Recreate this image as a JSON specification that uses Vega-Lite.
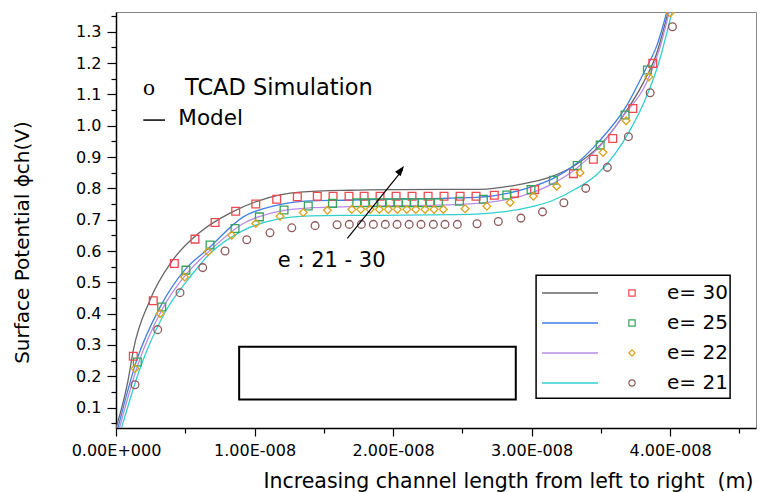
{
  "$schema": "https://vega.github.io/schema/vega-lite/v6.json",
  "width": 640,
  "height": 416,
  "autosize": "none",
  "padding": {"left": 116, "top": 12, "right": 13, "bottom": 64},
  "background": "white",
  "config": {"font": "DejaVu Sans", "view": {"stroke": "#888888", "strokeWidth": 1}},
  "datasets": {
    "one": [{}],
    "model": [
      {"e": "30", "x": 0, "y": 0.035}, {"e": "30", "x": 0.087e-8, "y": 0.187}, {"e": "30", "x": 0.125e-8, "y": 0.283}, {"e": "30", "x": 0.245e-8, "y": 0.443}, {"e": "30", "x": 0.40e-8, "y": 0.565}, {"e": "30", "x": 0.606e-8, "y": 0.66}, {"e": "30", "x": 0.823e-8, "y": 0.721}, {"e": "30", "x": 1.04e-8, "y": 0.762}, {"e": "30", "x": 1.329e-8, "y": 0.788}, {"e": "30", "x": 1.69e-8, "y": 0.794}, {"e": "30", "x": 2.051e-8, "y": 0.796}, {"e": "30", "x": 2.628e-8, "y": 0.797}, {"e": "30", "x": 2.917e-8, "y": 0.813}, {"e": "30", "x": 3.134e-8, "y": 0.836}, {"e": "30", "x": 3.314e-8, "y": 0.874}, {"e": "30", "x": 3.495e-8, "y": 0.938}, {"e": "30", "x": 3.639e-8, "y": 1.018}, {"e": "30", "x": 3.805e-8, "y": 1.136}, {"e": "30", "x": 3.899e-8, "y": 1.226}, {"e": "30", "x": 3.986e-8, "y": 1.363},
      {"e": "25", "x": 0.014e-8, "y": 0.035}, {"e": "25", "x": 0.149e-8, "y": 0.251}, {"e": "25", "x": 0.318e-8, "y": 0.421}, {"e": "25", "x": 0.505e-8, "y": 0.544}, {"e": "25", "x": 0.655e-8, "y": 0.603}, {"e": "25", "x": 0.919e-8, "y": 0.709}, {"e": "25", "x": 1.16e-8, "y": 0.746}, {"e": "25", "x": 1.401e-8, "y": 0.76}, {"e": "25", "x": 1.641e-8, "y": 0.762}, {"e": "25", "x": 1.906e-8, "y": 0.765}, {"e": "25", "x": 2.267e-8, "y": 0.767}, {"e": "25", "x": 2.604e-8, "y": 0.771}, {"e": "25", "x": 2.965e-8, "y": 0.8}, {"e": "25", "x": 3.157e-8, "y": 0.832}, {"e": "25", "x": 3.326e-8, "y": 0.88}, {"e": "25", "x": 3.495e-8, "y": 0.954}, {"e": "25", "x": 3.675e-8, "y": 1.056}, {"e": "25", "x": 3.82e-8, "y": 1.178}, {"e": "25", "x": 3.906e-8, "y": 1.258}, {"e": "25", "x": 3.976e-8, "y": 1.363},
      {"e": "22", "x": 0.025e-8, "y": 0.035}, {"e": "22", "x": 0.161e-8, "y": 0.241}, {"e": "22", "x": 0.33e-8, "y": 0.411}, {"e": "22", "x": 0.515e-8, "y": 0.53}, {"e": "22", "x": 0.666e-8, "y": 0.597}, {"e": "22", "x": 0.919e-8, "y": 0.688}, {"e": "22", "x": 1.16e-8, "y": 0.725}, {"e": "22", "x": 1.401e-8, "y": 0.738}, {"e": "22", "x": 1.641e-8, "y": 0.741}, {"e": "22", "x": 1.906e-8, "y": 0.744}, {"e": "22", "x": 2.267e-8, "y": 0.746}, {"e": "22", "x": 2.604e-8, "y": 0.752}, {"e": "22", "x": 2.989e-8, "y": 0.784}, {"e": "22", "x": 3.157e-8, "y": 0.816}, {"e": "22", "x": 3.326e-8, "y": 0.864}, {"e": "22", "x": 3.495e-8, "y": 0.935}, {"e": "22", "x": 3.66e-8, "y": 1.03}, {"e": "22", "x": 3.827e-8, "y": 1.135}, {"e": "22", "x": 3.92e-8, "y": 1.24}, {"e": "22", "x": 3.993e-8, "y": 1.363},
      {"e": "21", "x": 0.04e-8, "y": 0.035}, {"e": "21", "x": 0.173e-8, "y": 0.225}, {"e": "21", "x": 0.342e-8, "y": 0.395}, {"e": "21", "x": 0.534e-8, "y": 0.517}, {"e": "21", "x": 0.679e-8, "y": 0.592}, {"e": "21", "x": 0.919e-8, "y": 0.666}, {"e": "21", "x": 1.16e-8, "y": 0.701}, {"e": "21", "x": 1.401e-8, "y": 0.712}, {"e": "21", "x": 1.641e-8, "y": 0.714}, {"e": "21", "x": 1.906e-8, "y": 0.714}, {"e": "21", "x": 2.46e-8, "y": 0.716}, {"e": "21", "x": 2.773e-8, "y": 0.724}, {"e": "21", "x": 2.989e-8, "y": 0.74}, {"e": "21", "x": 3.155e-8, "y": 0.762}, {"e": "21", "x": 3.314e-8, "y": 0.797}, {"e": "21", "x": 3.473e-8, "y": 0.845}, {"e": "21", "x": 3.596e-8, "y": 0.906}, {"e": "21", "x": 3.711e-8, "y": 0.986}, {"e": "21", "x": 3.819e-8, "y": 1.082}, {"e": "21", "x": 3.913e-8, "y": 1.194}, {"e": "21", "x": 4.014e-8, "y": 1.363}
    ],
    "tcad": [
      {"e": "30", "x": 0.125e-8, "y": 0.264}, {"e": "30", "x": 0.269e-8, "y": 0.441}, {"e": "30", "x": 0.421e-8, "y": 0.56}, {"e": "30", "x": 0.57e-8, "y": 0.638}, {"e": "30", "x": 0.715e-8, "y": 0.691}, {"e": "30", "x": 0.864e-8, "y": 0.727}, {"e": "30", "x": 1.009e-8, "y": 0.75}, {"e": "30", "x": 1.16e-8, "y": 0.765}, {"e": "30", "x": 1.309e-8, "y": 0.773}, {"e": "30", "x": 1.453e-8, "y": 0.775}, {"e": "30", "x": 1.567e-8, "y": 0.775}, {"e": "30", "x": 1.682e-8, "y": 0.775}, {"e": "30", "x": 1.791e-8, "y": 0.775}, {"e": "30", "x": 1.906e-8, "y": 0.775}, {"e": "30", "x": 2.022e-8, "y": 0.775}, {"e": "30", "x": 2.137e-8, "y": 0.775}, {"e": "30", "x": 2.253e-8, "y": 0.775}, {"e": "30", "x": 2.368e-8, "y": 0.775}, {"e": "30", "x": 2.484e-8, "y": 0.775}, {"e": "30", "x": 2.599e-8, "y": 0.775}, {"e": "30", "x": 2.731e-8, "y": 0.778}, {"e": "30", "x": 2.876e-8, "y": 0.784}, {"e": "30", "x": 3.022e-8, "y": 0.796}, {"e": "30", "x": 3.302e-8, "y": 0.847}, {"e": "30", "x": 3.446e-8, "y": 0.893}, {"e": "30", "x": 3.586e-8, "y": 0.959}, {"e": "30", "x": 3.731e-8, "y": 1.055}, {"e": "30", "x": 3.875e-8, "y": 1.199},
      {"e": "25", "x": 0.154e-8, "y": 0.246}, {"e": "25", "x": 0.33e-8, "y": 0.421}, {"e": "25", "x": 0.505e-8, "y": 0.539}, {"e": "25", "x": 0.679e-8, "y": 0.619}, {"e": "25", "x": 0.859e-8, "y": 0.672}, {"e": "25", "x": 1.035e-8, "y": 0.709}, {"e": "25", "x": 1.213e-8, "y": 0.731}, {"e": "25", "x": 1.388e-8, "y": 0.744}, {"e": "25", "x": 1.563e-8, "y": 0.752}, {"e": "25", "x": 1.738e-8, "y": 0.754}, {"e": "25", "x": 1.798e-8, "y": 0.754}, {"e": "25", "x": 1.858e-8, "y": 0.754}, {"e": "25", "x": 1.918e-8, "y": 0.754}, {"e": "25", "x": 1.978e-8, "y": 0.754}, {"e": "25", "x": 2.038e-8, "y": 0.754}, {"e": "25", "x": 2.096e-8, "y": 0.754}, {"e": "25", "x": 2.154e-8, "y": 0.754}, {"e": "25", "x": 2.209e-8, "y": 0.754}, {"e": "25", "x": 2.267e-8, "y": 0.754}, {"e": "25", "x": 2.327e-8, "y": 0.754}, {"e": "25", "x": 2.479e-8, "y": 0.759}, {"e": "25", "x": 2.652e-8, "y": 0.765}, {"e": "25", "x": 2.821e-8, "y": 0.779}, {"e": "25", "x": 2.996e-8, "y": 0.796}, {"e": "25", "x": 3.157e-8, "y": 0.826}, {"e": "25", "x": 3.329e-8, "y": 0.873}, {"e": "25", "x": 3.495e-8, "y": 0.938}, {"e": "25", "x": 3.675e-8, "y": 1.034}, {"e": "25", "x": 3.836e-8, "y": 1.178},
      {"e": "22", "x": 0.137e-8, "y": 0.225}, {"e": "22", "x": 0.318e-8, "y": 0.4}, {"e": "22", "x": 0.495e-8, "y": 0.517}, {"e": "22", "x": 0.664e-8, "y": 0.598}, {"e": "22", "x": 0.835e-8, "y": 0.65}, {"e": "22", "x": 1.009e-8, "y": 0.688}, {"e": "22", "x": 1.184e-8, "y": 0.711}, {"e": "22", "x": 1.352e-8, "y": 0.723}, {"e": "22", "x": 1.526e-8, "y": 0.73}, {"e": "22", "x": 1.702e-8, "y": 0.733}, {"e": "22", "x": 1.767e-8, "y": 0.733}, {"e": "22", "x": 1.834e-8, "y": 0.733}, {"e": "22", "x": 1.901e-8, "y": 0.733}, {"e": "22", "x": 1.966e-8, "y": 0.733}, {"e": "22", "x": 2.031e-8, "y": 0.733}, {"e": "22", "x": 2.099e-8, "y": 0.733}, {"e": "22", "x": 2.164e-8, "y": 0.733}, {"e": "22", "x": 2.231e-8, "y": 0.733}, {"e": "22", "x": 2.296e-8, "y": 0.733}, {"e": "22", "x": 2.363e-8, "y": 0.733}, {"e": "22", "x": 2.52e-8, "y": 0.735}, {"e": "22", "x": 2.677e-8, "y": 0.743}, {"e": "22", "x": 2.845e-8, "y": 0.755}, {"e": "22", "x": 3.013e-8, "y": 0.775}, {"e": "22", "x": 3.182e-8, "y": 0.807}, {"e": "22", "x": 3.35e-8, "y": 0.85}, {"e": "22", "x": 3.516e-8, "y": 0.915}, {"e": "22", "x": 3.682e-8, "y": 1.016}, {"e": "22", "x": 3.846e-8, "y": 1.156}, {"e": "22", "x": 4.0e-8, "y": 1.36},
      {"e": "21", "x": 0.137e-8, "y": 0.173}, {"e": "21", "x": 0.301e-8, "y": 0.349}, {"e": "21", "x": 0.462e-8, "y": 0.467}, {"e": "21", "x": 0.626e-8, "y": 0.547}, {"e": "21", "x": 0.787e-8, "y": 0.6}, {"e": "21", "x": 0.944e-8, "y": 0.636}, {"e": "21", "x": 1.112e-8, "y": 0.658}, {"e": "21", "x": 1.269e-8, "y": 0.674}, {"e": "21", "x": 1.437e-8, "y": 0.681}, {"e": "21", "x": 1.596e-8, "y": 0.684}, {"e": "21", "x": 1.684e-8, "y": 0.685}, {"e": "21", "x": 1.771e-8, "y": 0.685}, {"e": "21", "x": 1.858e-8, "y": 0.685}, {"e": "21", "x": 1.944e-8, "y": 0.685}, {"e": "21", "x": 2.029e-8, "y": 0.685}, {"e": "21", "x": 2.116e-8, "y": 0.685}, {"e": "21", "x": 2.202e-8, "y": 0.685}, {"e": "21", "x": 2.291e-8, "y": 0.685}, {"e": "21", "x": 2.375e-8, "y": 0.685}, {"e": "21", "x": 2.464e-8, "y": 0.685}, {"e": "21", "x": 2.606e-8, "y": 0.687}, {"e": "21", "x": 2.76e-8, "y": 0.694}, {"e": "21", "x": 2.923e-8, "y": 0.705}, {"e": "21", "x": 3.079e-8, "y": 0.725}, {"e": "21", "x": 3.233e-8, "y": 0.754}, {"e": "21", "x": 3.391e-8, "y": 0.8}, {"e": "21", "x": 3.547e-8, "y": 0.867}, {"e": "21", "x": 3.699e-8, "y": 0.965}, {"e": "21", "x": 3.856e-8, "y": 1.105}, {"e": "21", "x": 4.017e-8, "y": 1.316}
    ]
  },
  "resolve": {"axis": {"x": "independent", "y": "independent"}},
  "layer": [
    {
      "data": {"name": "one"},
      "mark": {"type": "rect", "fill": "white", "stroke": "black", "strokeWidth": 1.5},
      "encoding": {
        "x": {"datum": 3.0325e-8, "type": "quantitative", "axis": null},
        "x2": {"datum": 4.433e-8},
        "y": {"datum": 0.523, "type": "quantitative", "axis": null},
        "y2": {"datum": 0.13}
      }
    },
    {
      "data": {"name": "one"},
      "mark": {"type": "rect", "fill": "white", "stroke": "black", "strokeWidth": 2},
      "encoding": {
        "x": {"datum": 0.889e-8, "type": "quantitative", "axis": null},
        "x2": {"datum": 2.886e-8},
        "y": {"datum": 0.294, "type": "quantitative", "axis": null},
        "y2": {"datum": 0.126}
      }
    },
    {
      "data": {"name": "model"},
      "mark": {"type": "line", "interpolate": "monotone", "strokeWidth": 1.3, "clip": true},
      "encoding": {
        "x": {"field": "x", "type": "quantitative",
          "scale": {"domain": [0, 4.62e-8], "nice": false, "zero": false},
          "axis": {"orient": "bottom", "values": [0, 1e-8, 2e-8, 3e-8, 4e-8],
            "labelExpr": "datum.value == 0 ? '0.00E+000' : format(datum.value * 1e8, '.2f') + 'E-008'",
            "labelFlush": false, "labelOverlap": false, "labelFontSize": 16, "labelColor": "black", "labelPadding": 6,
            "tickSize": 8, "tickColor": "black", "tickWidth": 1.2, "domainColor": "black", "domainWidth": 1.5, "grid": false,
            "title": "Increasing channel length from left to right \u00a0(m)", "titleFontSize": 20.5, "titleFontWeight": "normal",
            "titleColor": "black", "titleX": 392, "titleY": 53, "titleAlign": "center", "titleBaseline": "middle", "titleAnchor": null}},
        "y": {"field": "y", "type": "quantitative",
          "scale": {"domain": [0.035, 1.363], "nice": false, "zero": false},
          "axis": {"orient": "left", "values": [0.1, 0.2, 0.3, 0.4, 0.5, 0.6, 0.7, 0.8, 0.9, 1.0, 1.1, 1.2, 1.3],
            "format": ".1f", "labelFontSize": 16, "labelColor": "black", "labelPadding": 6,
            "tickSize": 9, "tickColor": "black", "tickWidth": 1.2, "domainColor": "black", "domainWidth": 1.5, "grid": false,
            "title": "Surface Potential ϕch(V)", "titleFontSize": 20, "titleFontWeight": "normal", "titleColor": "black",
            "titleAngle": 270, "titleX": -94, "titleY": 230, "titleAlign": "center", "titleBaseline": "middle", "titleAnchor": null}},
        "stroke": {"field": "e", "type": "nominal", "sort": "descending",
          "scale": {"range": ["#666666", "#3f7fe6", "#b98be8", "#33cfcf"]},
          "legend": {"orient": "none", "legendX": 444, "legendY": 271, "title": null, "direction": "vertical",
            "symbolType": "M-3.5,0H3.5", "symbolSize": 256, "symbolStrokeWidth": 1.6,
            "labelExpr": "'e= ' + datum.label", "labelFontSize": 20, "labelOpacity": 0, "rowPadding": 10, "padding": 0}}
      }
    },
    {
      "data": {"name": "tcad"},
      "mark": {"type": "point", "filled": false, "strokeWidth": 1.3, "size": 60, "opacity": 1, "clip": true},
      "encoding": {
        "x": {"field": "x", "type": "quantitative",
          "axis": {"orient": "bottom", "values": [0.5e-8, 1.5e-8, 2.5e-8, 3.5e-8, 4.5e-8], "labels": false, "domain": false,
            "tickSize": 5, "tickColor": "black", "tickWidth": 1.2, "grid": false, "title": null}},
        "y": {"field": "y", "type": "quantitative",
          "axis": {"orient": "left", "values": [0.05, 0.15, 0.25, 0.35, 0.45, 0.55, 0.65, 0.75, 0.85, 0.95, 1.05, 1.15, 1.25, 1.35],
            "labels": false, "domain": false, "tickSize": 5, "tickColor": "black", "tickWidth": 1.2, "grid": false, "title": null}},
        "color": {"field": "e", "type": "nominal", "sort": "descending",
          "scale": {"range": ["#f04850", "#38a35a", "#dca21c", "#8c5a5a"]},
          "legend": {"orient": "none", "legendX": 506, "legendY": 271, "title": null, "direction": "vertical",
            "symbolSize": 40, "symbolStrokeWidth": 1.2, "symbolOpacity": 1, "labelExpr": "'e= ' + datum.label", "labelFontSize": 20,
            "labelColor": "black", "labelOffset": 25, "rowPadding": 10, "padding": 0}},
        "shape": {"field": "e", "type": "nominal", "sort": "descending",
          "scale": {"range": ["square", "square", "diamond", "circle"]},
          "legend": {"orient": "none", "legendX": 506, "legendY": 271, "title": null, "direction": "vertical",
            "symbolSize": 40, "symbolStrokeWidth": 1.2, "symbolOpacity": 1, "labelExpr": "'e= ' + datum.label", "labelFontSize": 20,
            "labelColor": "black", "labelOffset": 25, "rowPadding": 10, "padding": 0}}
      }
    },
    {
      "data": {"name": "one"},
      "mark": {"type": "text", "text": "o", "font": "Liberation Serif", "fontSize": 24, "align": "center", "baseline": "alphabetic", "color": "black"},
      "encoding": {
        "x": {"datum": 0.238e-8, "type": "quantitative", "axis": null},
        "y": {"datum": 1.098, "type": "quantitative", "axis": null}
      }
    },
    {
      "data": {"name": "one"},
      "mark": {"type": "text", "text": "TCAD Simulation", "fontSize": 22.5, "align": "left", "baseline": "alphabetic", "color": "black"},
      "encoding": {
        "x": {"datum": 0.498e-8, "type": "quantitative", "axis": null},
        "y": {"datum": 1.098, "type": "quantitative", "axis": null}
      }
    },
    {
      "data": {"name": "one"},
      "mark": {"type": "rule", "color": "black", "strokeWidth": 1.5},
      "encoding": {
        "x": {"datum": 0.197e-8, "type": "quantitative", "axis": null},
        "x2": {"datum": 0.354e-8},
        "y": {"datum": 1.018, "type": "quantitative", "axis": null}
      }
    },
    {
      "data": {"name": "one"},
      "mark": {"type": "text", "text": "Model", "fontSize": 21.5, "align": "left", "baseline": "alphabetic", "color": "black"},
      "encoding": {
        "x": {"datum": 0.45e-8, "type": "quantitative", "axis": null},
        "y": {"datum": 1.002, "type": "quantitative", "axis": null}
      }
    },
    {
      "data": {"name": "one"},
      "mark": {"type": "text", "text": "e : 21 - 30", "fontSize": 21, "align": "left", "baseline": "alphabetic", "color": "black"},
      "encoding": {
        "x": {"datum": 1.168e-8, "type": "quantitative", "axis": null},
        "y": {"datum": 0.548, "type": "quantitative", "axis": null}
      }
    },
    {
      "data": {"name": "one"},
      "mark": {"type": "rule", "color": "black", "strokeWidth": 1.2},
      "encoding": {
        "x": {"datum": 1.67e-8, "type": "quantitative", "axis": null},
        "y": {"datum": 0.64, "type": "quantitative", "axis": null},
        "x2": {"datum": 2.07e-8},
        "y2": {"datum": 0.86}
      }
    },
    {
      "data": {"name": "one"},
      "mark": {"type": "point", "shape": "M0,0L-0.7,2L0.7,2Z", "filled": true, "color": "black", "size": 100, "angle": 38, "opacity": 1},
      "encoding": {
        "x": {"datum": 2.079e-8, "type": "quantitative", "axis": null},
        "y": {"datum": 0.871, "type": "quantitative", "axis": null}
      }
    }
  ]
}
